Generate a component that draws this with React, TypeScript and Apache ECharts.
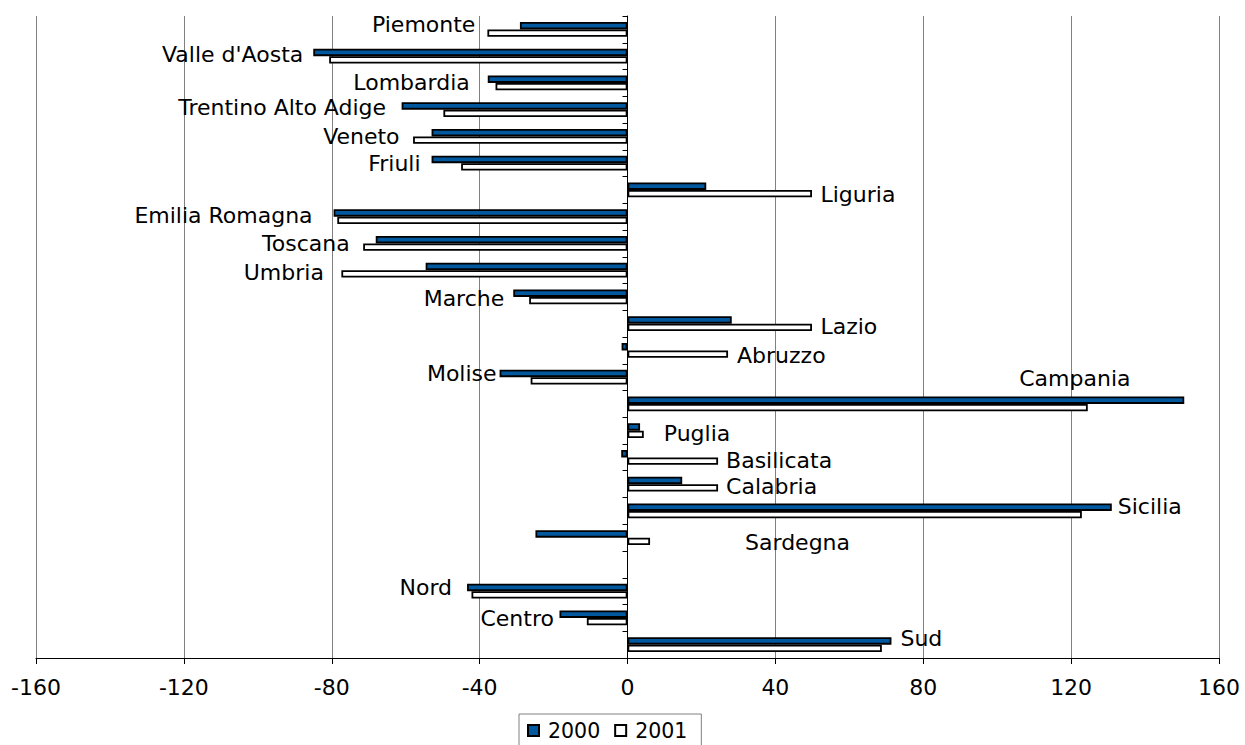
import React, { useEffect, useRef } from "react";
import * as echarts from "echarts";

const categories = [
  "Piemonte", "Valle d'Aosta", "Lombardia", "Trentino Alto Adige", "Veneto", "Friuli",
  "Liguria", "Emilia Romagna", "Toscana", "Umbria", "Marche", "Lazio", "Abruzzo", "Molise",
  "Campania", "Puglia", "Basilicata", "Calabria", "Sicilia", "Sardegna", "",
  "Nord", "Centro", "Sud",
];

const values2000 = [
  -29.1, -85.0, -37.8, -61.1, -53.0, -53.0,
  21.3, -79.5, -68.1, -54.6, -30.9, 28.2, -1.6, -34.6,
  150.6, 3.4, -1.7, 14.8, 131.0, -24.9, null,
  -43.4, -18.4, 71.4,
];

const values2001 = [
  -37.9, -80.7, -35.7, -49.8, -58.0, -45.0,
  49.9, -78.5, -71.5, -77.4, -26.6, 49.9, 27.2, -26.2,
  124.5, 4.4, 24.5, 24.5, 122.9, 6.1, null,
  -42.2, -11.0, 68.8,
];

const xTicks = { min: -160, max: 160, interval: 40 };
const seriesNames = ["2000", "2001"];

// label placement (styling): which series carries the label, side, offset
const labelPlacement = [
  { s: 1, pos: "left", dx: -12, dy: -9 },
  { s: 0, pos: "left", dx: -10, dy: 2.5 },
  { s: 0, pos: "left", dx: -18, dy: 3 },
  { s: 0, pos: "left", dx: -15.5, dy: 2 },
  { s: 1, pos: "left", dx: -13.5, dy: -3.5 },
  { s: 0, pos: "left", dx: -11, dy: 4 },
  { s: 1, pos: "right", dx: 8.5, dy: 1 },
  { s: 0, pos: "left", dx: -21, dy: 2.5 },
  { s: 1, pos: "left", dx: -13.5, dy: -4 },
  { s: 1, pos: "left", dx: -17.5, dy: -1 },
  { s: 0, pos: "left", dx: -9, dy: 5 },
  { s: 1, pos: "right", dx: 8.5, dy: -0.5 },
  { s: 1, pos: "right", dx: 9, dy: 1 },
  { s: 0, pos: "left", dx: -3, dy: 0.5 },
  { s: 0, pos: "right", dx: -165, dy: -21.5 },
  { s: 1, pos: "right", dx: 20, dy: -1 },
  { s: 1, pos: "right", dx: 8, dy: -1 },
  { s: 1, pos: "right", dx: 8, dy: -1 },
  { s: 0, pos: "right", dx: 6, dy: -1 },
  { s: 1, pos: "right", dx: 95, dy: 1 },
  null,
  { s: 0, pos: "left", dx: -15, dy: 0 },
  { s: 0, pos: "left", dx: -5.5, dy: 4 },
  { s: 0, pos: "right", dx: 9, dy: -2 },
];

const FONT = "DejaVu Sans";

function buildData(values: (number | null)[], seriesIndex: number) {
  return values.map((v, i) => {
    const p = labelPlacement[i];
    if (v === null) return { value: null };
    if (p && p.s === seriesIndex) {
      return {
        value: v,
        label: {
          show: true,
          position: p.pos,
          distance: 0,
          offset: [p.dx, p.dy],
          formatter: "{b}",
          color: "#000",
          fontFamily: FONT,
          fontSize: 22,
        },
      };
    }
    return { value: v };
  });
}

export default function App() {
  const ref = useRef<HTMLDivElement>(null);
  useEffect(() => {
    document.body.style.margin = "0";
    if (!ref.current) return;
    const chart = echarts.init(ref.current, null, { renderer: "svg" });
    chart.setOption({
      animation: false,
      backgroundColor: "#fff",
      textStyle: { fontFamily: FONT },
      grid: { left: 36, right: 26, top: 16, bottom: 87, containLabel: false },
      legend: {
        data: seriesNames,
        left: 519,
        top: 714,
        orient: "horizontal",
        icon: "rect",
        itemWidth: 11,
        itemHeight: 11,
        itemGap: 14,
        padding: [6, 14, 8, 8],
        borderColor: "#808080",
        borderWidth: 1,
        textStyle: { fontFamily: FONT, fontSize: 20.5, color: "#000", padding: [0, 0, 0, 4] },
      },
      xAxis: {
        type: "value",
        min: xTicks.min,
        max: xTicks.max,
        interval: xTicks.interval,
        position: "bottom",
        axisLine: { show: true, onZero: false, lineStyle: { color: "#000", width: 1 } },
        axisTick: { show: true, length: 6, lineStyle: { color: "#000" } },
        axisLabel: { fontFamily: FONT, fontSize: 22, color: "#000", margin: 18 },
        splitLine: { show: true, lineStyle: { color: "#808080", width: 1 } },
      },
      yAxis: {
        type: "category",
        data: categories,
        inverse: true,
        axisLine: { show: true, onZero: true, lineStyle: { color: "#000", width: 1 } },
        axisTick: { show: true, length: 5, alignWithLabel: false, lineStyle: { color: "#000" } },
        axisLabel: { show: false },
        splitLine: { show: false },
      },
      series: [
        {
          name: seriesNames[0],
          type: "bar",
          data: buildData(values2000, 0),
          barGap: "0%",
          barCategoryGap: "44%",
          itemStyle: { color: "#00599f", borderColor: "#000", borderWidth: 1.8 },
          z: 3,
        },
        {
          name: seriesNames[1],
          type: "bar",
          data: buildData(values2001, 1),
          barGap: "0%",
          barCategoryGap: "44%",
          itemStyle: { color: "#ffffff", borderColor: "#000", borderWidth: 1.8 },
          z: 3,
        },
      ],
    });
    return () => chart.dispose();
  }, []);
  return <div ref={ref} style={{ width: 1245, height: 745 }} />;
}
